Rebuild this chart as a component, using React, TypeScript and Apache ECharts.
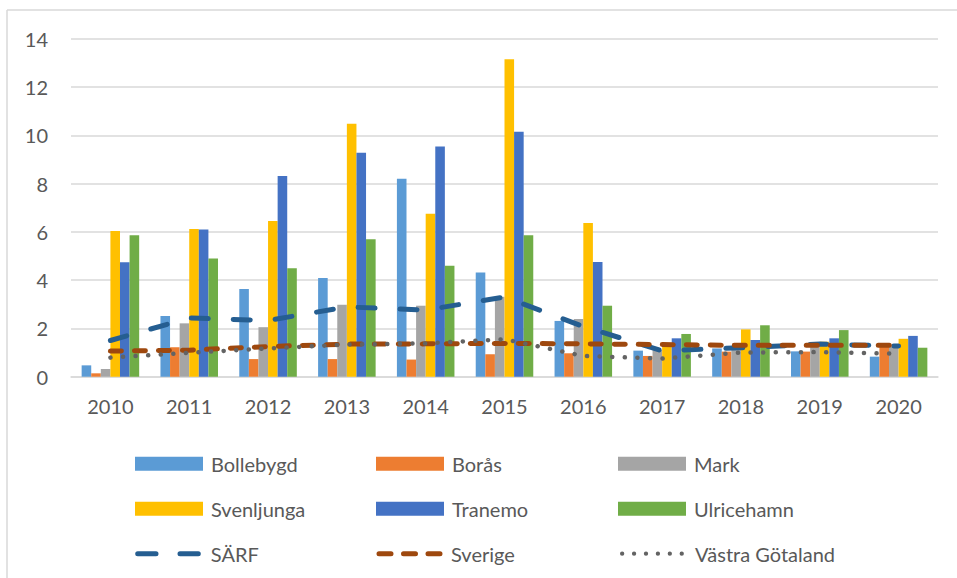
import React, { useEffect, useRef } from "react";
import * as echarts from "echarts";

const years = ["2010", "2011", "2012", "2013", "2014", "2015", "2016", "2017", "2018", "2019", "2020"];

const bollebygd = [0.47, 2.51, 3.63, 4.09, 8.2, 4.32, 2.31, 1.08, 1.17, 1.05, 0.83];
const boras = [0.14, 1.22, 0.73, 0.73, 0.71, 0.93, 0.97, 0.86, 1.04, 1.04, 1.24];
const mark = [0.32, 2.21, 2.05, 2.98, 2.94, 3.31, 2.39, 1.1, 1.15, 1.3, 1.24];
const svenljunga = [6.03, 6.12, 6.45, 10.48, 6.75, 13.15, 6.37, 1.25, 1.96, 1.45, 1.57];
const tranemo = [4.74, 6.1, 8.31, 9.28, 9.53, 10.15, 4.75, 1.59, 1.52, 1.59, 1.69];
const ulricehamn = [5.86, 4.9, 4.49, 5.69, 4.6, 5.86, 2.94, 1.77, 2.13, 1.93, 1.2];

const sarf = [1.5, 2.43, 2.33, 2.89, 2.76, 3.3, 2.08, 1.07, 1.2, 1.35, 1.27];
const sverige = [1.06, 1.1, 1.25, 1.35, 1.36, 1.38, 1.36, 1.33, 1.3, 1.3, 1.3];
const vastraGotaland = [0.79, 0.99, 1.17, 1.33, 1.38, 1.55, 0.86, 0.75, 1.0, 1.02, 0.95];

const barSeries = [
  { name: "Bollebygd", data: bollebygd, color: "#5B9BD5" },
  { name: "Borås", data: boras, color: "#ED7D31" },
  { name: "Mark", data: mark, color: "#A5A5A5" },
  { name: "Svenljunga", data: svenljunga, color: "#FFC000" },
  { name: "Tranemo", data: tranemo, color: "#4472C4" },
  { name: "Ulricehamn", data: ulricehamn, color: "#70AD47" },
];

const lineSeries = [
  { name: "SÄRF", data: sarf, color: "#255E91", width: 5, dash: [17, 25] },
  { name: "Sverige", data: sverige, color: "#9E480E", width: 5, dash: [11, 13] },
  { name: "Västra Götaland", data: vastraGotaland, color: "#636363", width: 4.5, dash: [0.1, 12.5] },
];

// legend icon geometry for the line entries (left, icon width, dash, extra text padding)
const lineLegendIcons = [
  { left: 135.2, width: 60.6, dash: [18.3, 24], lineWidth: 5, pad: 7.5 },
  { left: 376.5, width: 61, dash: [12, 12.5], lineWidth: 5, pad: 6 },
  { left: 620, width: 60.5, dash: [0.1, 11.82], lineWidth: 4.2, pad: 7.5 },
];

const FONT = "Lato, 'Open Sans', sans-serif";
const TEXT_COLOR = "#595959";

export default function App() {
  const ref = useRef<HTMLDivElement>(null);

  useEffect(() => {
    if (!ref.current) return;
    const chart = echarts.init(ref.current, null, { renderer: "svg" });

    const colX = [135, 376, 618];
    const rowCenter = [460.8, 505.7, 550.7];

    const textStyle = (pad: number) => ({
      fontSize: 20,
      fontFamily: FONT,
      color: TEXT_COLOR,
      padding: [0, 0, 0, pad],
    });

    const barLegends = barSeries.map((s, i) => ({
      data: [s.name],
      left: colX[i % 3],
      top: rowCenter[Math.floor(i / 3)] - 7,
      padding: 0,
      itemWidth: 68,
      itemHeight: 14,
      selectedMode: false,
      icon: "rect",
      textStyle: textStyle(3),
    }));

    const lineLegends = lineSeries.map((s, i) => {
      const g = lineLegendIcons[i];
      return {
        data: [s.name],
        left: g.left,
        top: rowCenter[2] - 7,
        padding: 0,
        itemWidth: g.width,
        itemHeight: 14,
        selectedMode: false,
        itemStyle: { opacity: 0 },
        lineStyle: { color: s.color, width: g.lineWidth, type: g.dash, cap: "round", dashOffset: 0 },
        textStyle: textStyle(g.pad),
      };
    });

    const series: any[] = [
      ...barSeries.map((s) => ({
        name: s.name,
        type: "bar",
        data: s.data,
        itemStyle: { color: s.color },
        barGap: "0%",
        barCategoryGap: "27%",
      })),
      ...lineSeries.map((s) => ({
        name: s.name,
        type: "line",
        data: s.data,
        symbol: "none",
        showSymbol: false,
        itemStyle: { color: s.color },
        lineStyle: { color: s.color, width: s.width, type: s.dash, cap: "round", join: "round" },
        z: 3,
      })),
    ];

    chart.setOption({
      animation: false,
      backgroundColor: "#ffffff",
      grid: { left: 71, top: 38.7, width: 867, height: 338, containLabel: false },
      xAxis: {
        type: "category",
        data: years,
        boundaryGap: true,
        axisLine: { show: true, lineStyle: { color: "#D9D9D9", width: 1.5 } },
        axisTick: { show: false },
        axisLabel: { fontSize: 20, fontFamily: FONT, color: TEXT_COLOR, margin: 19 },
        splitLine: { show: false },
      },
      yAxis: {
        type: "value",
        min: 0,
        max: 14,
        interval: 2,
        axisLine: { show: false },
        axisTick: { show: false },
        axisLabel: { fontSize: 20, fontFamily: FONT, color: TEXT_COLOR, margin: 23 },
        splitLine: { lineStyle: { color: "#D9D9D9", width: 1.5 } },
      },
      legend: [...barLegends, ...lineLegends],
      series,
      graphic: [
        {
          type: "line",
          shape: { x1: 7, y1: 10, x2: 957, y2: 10 },
          style: { stroke: "#D9D9D9", lineWidth: 1.5 },
          silent: true,
        },
        {
          type: "line",
          shape: { x1: 7, y1: 10, x2: 7, y2: 578 },
          style: { stroke: "#D9D9D9", lineWidth: 1.5 },
          silent: true,
        },
      ],
    });

    return () => chart.dispose();
  }, []);

  return (
    <div
      ref={ref}
      style={{ position: "fixed", left: 0, top: 0, width: 957, height: 578, background: "#fff" }}
    />
  );
}
